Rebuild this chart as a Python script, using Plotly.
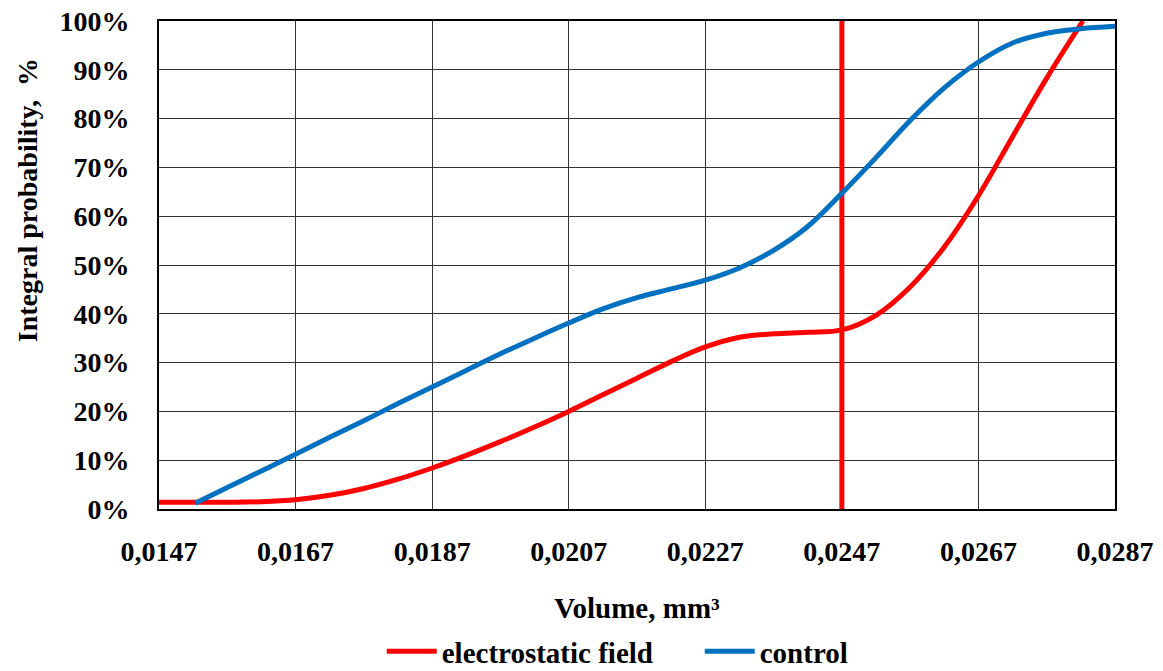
import plotly.graph_objects as go

# Electrostatic field series (volume mm^3, integral probability %)
field_x = [0.0147, 0.0152, 0.0157, 0.0162, 0.0167, 0.0172, 0.0177, 0.0182, 0.0187,
           0.0192, 0.0197, 0.0202, 0.0207, 0.0212, 0.0217, 0.0222, 0.0227, 0.0232,
           0.0237, 0.0242, 0.0247, 0.0252, 0.0257, 0.0262, 0.0267, 0.0272, 0.0277,
           0.02823]
field_y = [1.4, 1.4, 1.4, 1.5, 1.9, 2.8, 4.2, 6.1, 8.4,
           11.0, 13.8, 16.8, 20.0, 23.4, 26.8, 30.2, 33.2, 35.2,
           35.9, 36.2, 36.7, 39.7, 45.5, 53.7, 64.2, 76.3, 88.3,
           100.0]

# Control series
control_x = [0.01523, 0.0157, 0.0162, 0.0167, 0.0172, 0.0177, 0.0182, 0.0187, 0.0192,
             0.0197, 0.0202, 0.0207, 0.0212, 0.0217, 0.0222, 0.0227, 0.0232, 0.0237,
             0.0242, 0.0247, 0.0252, 0.0257, 0.0262, 0.0267, 0.0272, 0.0277, 0.0282,
             0.0287]
control_y = [1.2, 4.4, 7.8, 11.2, 14.7, 18.1, 21.6, 25.0, 28.4,
             31.8, 35.0, 38.1, 41.0, 43.3, 45.1, 46.9, 49.4, 53.0,
             57.9, 64.7, 72.0, 79.6, 86.3, 91.6, 95.5, 97.5, 98.4,
             98.9]

# Vertical marker line
marker_x = [0.0247, 0.0247]
marker_y = [0, 100]

x_ticks = [0.0147, 0.0167, 0.0187, 0.0207, 0.0227, 0.0247, 0.0267, 0.0287]
x_tick_labels = ["0,0147", "0,0167", "0,0187", "0,0207", "0,0227", "0,0247", "0,0267", "0,0287"]
y_ticks = [0, 10, 20, 30, 40, 50, 60, 70, 80, 90, 100]
y_tick_labels = [f"{v}%" for v in y_ticks]

RED = "#ff0000"
BLUE = "#0070c0"
FONT = "Liberation Serif"


def f(size):
    return dict(family=FONT, size=size, color="black", weight="bold")


fig = go.Figure()
fig.add_trace(go.Scatter(x=marker_x, y=marker_y, mode="lines", showlegend=False,
                         line=dict(color=RED, width=5), hoverinfo="skip"))
fig.add_trace(go.Scatter(x=field_x, y=field_y, mode="lines", name="electrostatic field",
                         line=dict(color=RED, width=5, shape="spline", smoothing=1.0)))
fig.add_trace(go.Scatter(x=control_x, y=control_y, mode="lines", name="control",
                         line=dict(color=BLUE, width=5, shape="spline", smoothing=1.0)))

fig.update_layout(
    width=1163, height=671,
    margin=dict(l=159, r=48, t=21, b=162, autoexpand=False),
    paper_bgcolor="white", plot_bgcolor="white",
    font=f(28),
    legend=dict(orientation="h", x=0.233, xanchor="left", y=-0.292, yanchor="middle",
                font=f(29), itemwidth=50, traceorder="normal",
                entrywidth=253, entrywidthmode="pixels"),
    annotations=[dict(text="Integral probability,  %", textangle=-90,
                      xref="paper", yref="paper", x=-0.138, y=0.633,
                      xanchor="center", yanchor="middle", showarrow=False,
                      font=f(28))],
)
fig.update_xaxes(
    range=[0.0147, 0.0287], tickvals=x_ticks, ticktext=x_tick_labels,
    showgrid=True, gridcolor="#333333", gridwidth=1,
    showline=True, linecolor="black", linewidth=2, mirror=True,
    ticks="", ticklabelstandoff=16, zeroline=False,
    tickfont=f(28),
    title=dict(text="Volume, mm³", standoff=32, font=f(29)),
)
fig.update_yaxes(
    range=[0, 100], tickvals=y_ticks, ticktext=y_tick_labels,
    showgrid=True, gridcolor="#333333", gridwidth=1,
    showline=True, linecolor="black", linewidth=2, mirror=True,
    ticks="", ticklabelstandoff=22, zeroline=False,
    tickfont=f(28),
)

fig.write_html("out.html", config={"displayModeBar": False},
               post_script="document.body.style.margin='0';")
